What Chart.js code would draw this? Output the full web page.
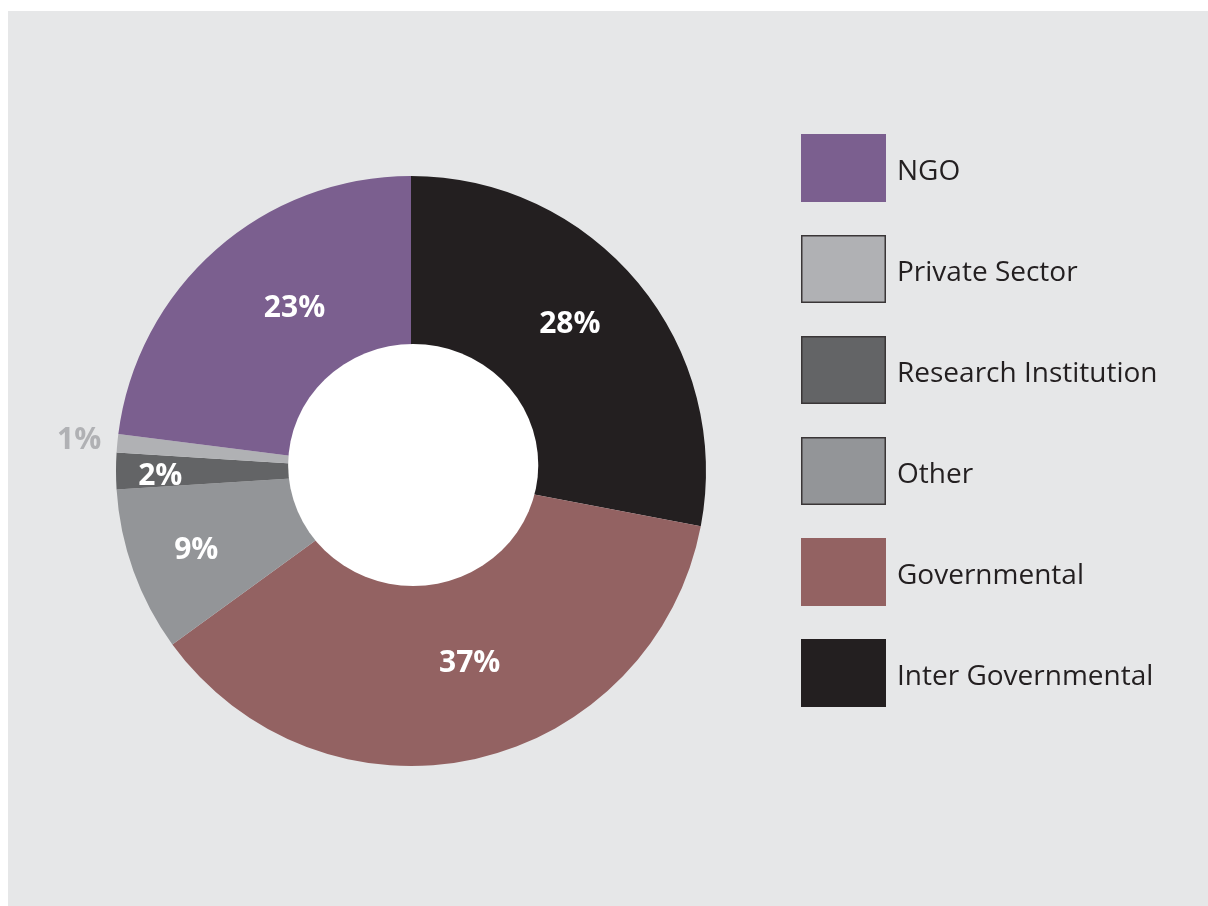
<!DOCTYPE html>
<html lang="en">
<head>
    <meta charset="UTF-8">
    <title>Partners by Sector</title>
    <script src="https://cdn.jsdelivr.net/npm/chart.js"></script>
    <style>
        body { margin: 0; background: #ffffff; }
        #panel {
            position: absolute; left: 8px; top: 11px;
            width: 1200px; height: 895px; background: #e6e7e8;
        }
    </style>
</head>
<body>
    <div id="panel"><canvas id="sectorChart" width="1200" height="895"></canvas></div>
    <script>
        // slices go clockwise from 12 o'clock
        const sectors = ['Inter Governmental', 'Governmental', 'Other', 'Research Institution', 'Private Sector', 'NGO'];
        const shares = [28, 37, 9, 2, 1, 23];
        const sectorColors = ['#231f20', '#936262', '#939598', '#636466', '#b0b1b4', '#7b5f8f'];

        // % label placement: fraction of the outer radius, and a nudge in degrees
        const labelRadius = [0.735, 0.68, 0.775, 0.85, 1.13, 0.68];
        const labelNudge = [-3.3, -4.4, -0.3, -1, 0, 5.9];
        const labelColors = ['#ffffff', '#ffffff', '#ffffff', '#ffffff', '#b0b1b4', '#ffffff'];

        // white hole, sitting a touch above the ring's centre
        const whiteHole = {
            id: 'whiteHole',
            afterDatasetsDraw(chart) {
                const arc = chart.getDatasetMeta(0).data[0];
                const { x, y, outerRadius } = arc.getProps(['x', 'y', 'outerRadius'], true);
                const ctx = chart.ctx;
                ctx.save();
                ctx.fillStyle = '#ffffff';
                ctx.beginPath();
                ctx.ellipse(x + 2.2, y - 6, outerRadius * 0.424, outerRadius * 0.41, 0, 0, Math.PI * 2);
                ctx.fill();
                ctx.restore();
            }
        };

        const percentLabels = {
            id: 'percentLabels',
            afterDatasetsDraw(chart) {
                const ctx = chart.ctx;
                const arcs = chart.getDatasetMeta(0).data;
                ctx.save();
                ctx.font = 'bold 30px "Open Sans"';
                ctx.textAlign = 'center';
                ctx.textBaseline = 'middle';
                arcs.forEach((arc, i) => {
                    const { x, y, startAngle, endAngle, outerRadius } = arc.getProps(['x', 'y', 'startAngle', 'endAngle', 'outerRadius'], true);
                    const mid = (startAngle + endAngle) / 2 + labelNudge[i] * Math.PI / 180;
                    const r = outerRadius * labelRadius[i];
                    ctx.fillStyle = labelColors[i];
                    ctx.fillText(shares[i] + '%', x + Math.cos(mid) * r, y + Math.sin(mid) * r + 1);
                });
                ctx.restore();
            }
        };

        // legend on the right, listed in reverse slice order
        const boxLegend = {
            id: 'boxLegend',
            afterDraw(chart) {
                const ctx = chart.ctx;
                const n = sectors.length;
                ctx.save();
                ctx.font = '28px "Open Sans"';
                ctx.textBaseline = 'middle';
                ctx.textAlign = 'left';
                for (let k = 0; k < n; k++) {
                    const i = n - 1 - k;
                    const top = 123 + k * 101;
                    ctx.fillStyle = sectorColors[i];
                    ctx.fillRect(793, top, 85, 68);
                    if (i >= 2 && i <= 4) {
                        ctx.strokeStyle = '#3a3637';
                        ctx.lineWidth = 1.5;
                        ctx.strokeRect(793.75, top + 0.75, 83.5, 66.5);
                    }
                    ctx.fillStyle = '#231f20';
                    ctx.fillText(sectors[i], 889, top + 38);
                }
                ctx.restore();
            }
        };

        new Chart(document.getElementById('sectorChart'), {
            type: 'doughnut',
            data: {
                labels: sectors,
                datasets: [{
                    data: shares,
                    backgroundColor: sectorColors,
                    borderWidth: 0
                }]
            },
            options: {
                responsive: false,
                animation: false,
                cutout: '38%',
                layout: {
                    padding: { left: 108, top: 165, right: 502, bottom: 140 }
                },
                plugins: {
                    legend: { display: false },
                    tooltip: { enabled: false }
                }
            },
            plugins: [whiteHole, percentLabels, boxLegend]
        });
    </script>
</body>
</html>
